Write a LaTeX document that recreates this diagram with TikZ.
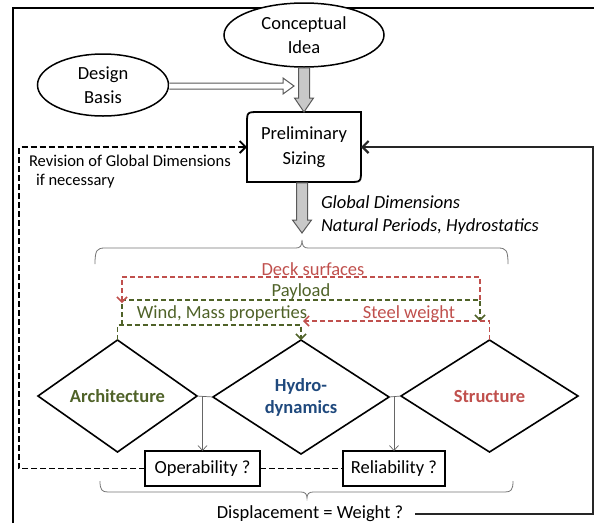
\documentclass[tikz,border=0pt]{standalone}
\usepackage{fontspec}
\setmainfont{Carlito}
\usetikzlibrary{shapes.geometric,arrows.meta,calc}
\definecolor{xred}{HTML}{C0504D}
\definecolor{xgreen}{HTML}{4F6228}
\definecolor{xblue}{HTML}{1F497D}
\definecolor{fatfill}{HTML}{C8C8C8}
\definecolor{fatdraw}{HTML}{595959}
\begin{document}
\begin{tikzpicture}[x=1pt,y=-1pt,
  every node/.style={font=\fontsize{18.5}{24}\selectfont, inner sep=0pt, outer sep=0pt},
  ellnode/.style={ellipse, draw=black, line width=1.5pt, fill=white, align=center},
  dia/.style={diamond, draw=black, line width=1.6pt, align=center, font=\fontsize{18.5}{22}\selectfont\bfseries},
  qbox/.style={rectangle, draw=black, line width=1.8pt, minimum height=35pt},
  fat/.style={fill=fatfill, draw=fatdraw, line width=1pt},
  hollow/.style={fill=white, draw=fatdraw, line width=1pt},
  tip/.style={-{Straight Barb[length=5pt,width=10pt]}},
  thinline/.style={draw=black!60, line width=0.7pt},
  thinarrow/.style={thinline, -{Straight Barb[length=5pt,width=9pt]}},
  blackdash/.style={draw=black, line width=1.8pt, dash pattern=on 6pt off 3pt},
  reddash/.style={draw=xred, line width=1.5pt, dash pattern=on 5pt off 3pt},
  greendash/.style={draw=xgreen, line width=1.5pt, dash pattern=on 5pt off 3pt},
  brc/.style={draw=black!55, line width=0.8pt}
]
\useasboundingbox (0,0) rectangle (594,523);
% frame
\draw[line width=2.5pt] (13,523) -- (13,8) -- (594,8);

% helper coordinates
\coordinate (lc) at (19,0);
\coordinate (rc) at (593,0);
\coordinate (join) at (294,86);
\coordinate (xl) at (122,0);
\coordinate (xr) at (480,0);
\coordinate (yd) at (0,277);
\coordinate (yda) at (0,303);
\coordinate (yp) at (0,300);
\coordinate (yw) at (0,325);
\coordinate (ys) at (0,321);

% nodes
\node[ellnode, minimum width=160pt, minimum height=64pt] (concept) at (304,35) {Conceptual\\Idea};
\node[ellnode, minimum width=131pt, minimum height=62pt] (design) at (103,85) {Design\\Basis};
\node[minimum width=114pt, minimum height=70pt, align=center, font=\fontsize{18.5}{25}\selectfont] (prelim) at (304,147) {Preliminary\\Sizing};
\draw[line width=1.8pt] (259,112) -- (361,112) -- (361,170) .. controls (361,182) .. (349,182) -- (247,182) -- (247,124) .. controls (247,112) .. (259,112) -- cycle;

\node[dia, minimum width=159pt, minimum height=112pt, text=xgreen] (arch) at (117.5,396) {Architecture};
\node[dia, minimum width=176pt, minimum height=114pt, text=xblue] (hydro) at (301,397) {Hydro-\\dynamics};
\node[dia, minimum width=177pt, minimum height=112pt, text=xred] (struct) at (489.5,396) {Structure};

\node[qbox, minimum width=115pt] (op) at (202.5,468.5) {Operability ?};
\node[qbox, minimum width=102pt] (rel) at (394,468.5) {Reliability ?};
\node (disp) at (310,514) {Displacement = Weight ?};

\node[anchor=west, align=left, font=\fontsize{16.5}{19}\selectfont] (rev) at (29,172) {Revision of Global Dimensions\\\hspace*{7pt}if necessary};
\node[anchor=west, align=left, font=\fontsize{18.5}{23}\selectfont\itshape] (gd) at (321,215.5) {Global Dimensions\\Natural Periods, Hydrostatics};

\node[text=xred] (deck) at (313,269) {Deck surfaces};
\node[text=xgreen] (pay) at (301,292) {Payload};
\node[text=xgreen] (wind) at (222,314) {Wind, Mass properties};
\node[text=xred] (steel) at (409,314) {Steel weight};

% fat arrows
\path (concept.south) coordinate (ca) (prelim.north) coordinate (cb);
\draw[fat] ($(ca)+(-5.5,0.8)$) -- ($(cb)+(-5.5,-14)$) -- ($(cb)+(-9.5,-14)$) -- (cb) -- ($(cb)+(9.5,-14)$) -- ($(cb)+(5.5,-14)$) -- ($(ca)+(5.5,0.8)$) -- cycle;
\coordinate (bt) at (302,240);
\path (prelim.south) coordinate (pa);
\draw[fat] ($(pa)+(-7.5,0.9)$) -- ($(bt)+(-5.5,-20)$) -- ($(bt)+(-9.5,-20)$) -- ($(bt)+(0,-7)$) -- ($(bt)+(9.5,-20)$) -- ($(bt)+(5.5,-20)$) -- ($(pa)+(3.5,0.9)$) -- cycle;
\draw[hollow] ($(design.east |- join)+(0.8,-3)$) -- ($(join)+(-11,-3)$) -- ($(join)+(-11,-8)$) -- (join) -- ($(join)+(-11,8)$) -- ($(join)+(-11,3)$) -- ($(design.east |- join)+(0.8,3)$);

% braces
\draw[brc] (95,264) .. controls (95,250) and (97,248) .. (105,248) -- (296,248) .. controls (300,248) and (302,246) .. (bt) .. controls (302,246) and (304,248) .. (308,248) -- (498,248) .. controls (506,248) and (508,250) .. (508,264);
\draw[brc] (100,481) .. controls (100,490) and (102,492) .. (108,492) -- (301,492) .. controls (305,492) and (307,494) .. (307,498) .. controls (307,494) and (309,492) .. (313,492) -- (505,492) .. controls (511,492) and (513,490) .. (513,481);

% thin connectors
\draw[thinline] (arch.east) -- (hydro.west);
\draw[thinline] (hydro.east) -- (struct.west);
\draw[thinarrow] (op.north |- arch.east) -- (op.north);
\draw[thinarrow] (rel.north |- struct.west) -- (rel.north);

% dashed black feedback
\draw[blackdash, -{Straight Barb[length=6pt,width=12pt]}] (op.west) -- (op.west -| lc) -- (prelim.west -| lc) -- (prelim.west);
\draw[blackdash] (op.east) -- (rel.west);

% solid feedback
\draw[line width=2.2pt, draw=black!85, -{Straight Barb[length=6pt,width=12pt]}] ([xshift=12pt]disp.east) -- (disp.east -| rc) -- (prelim.east -| rc) -- (prelim.east);

% coloured dashed exchanges
\draw[greendash, tip] (xl |- yw) -- (xl |- yp) -- (xr |- yp) -- (xr |- ys);
\draw[greendash, tip] (arch.north) -- (arch.north |- yw) -- (hydro.north |- yw) -- (hydro.north);
\draw[reddash, tip] (xr |- yp) -- (xr |- yd) -- (xl |- yd) -- (xl |- yda);
\draw[reddash, tip] (struct.north) -- (struct.north |- ys) -- ([xshift=2pt]hydro.north |- ys);
\end{tikzpicture}
\end{document}
